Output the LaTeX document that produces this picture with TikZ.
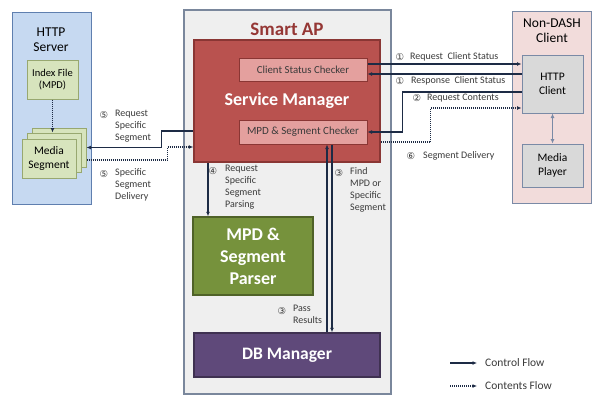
\documentclass[tikz,border=0pt]{standalone}
\usepackage{fontspec}
\setmainfont{Carlito}
\newfontfamily\circfont{DejaVu Sans}
\usetikzlibrary{arrows.meta}
\definecolor{srvfill}{HTML}{C6D9F1}
\definecolor{srvline}{HTML}{5F7FAF}
\definecolor{idxfill}{HTML}{D7E4BD}
\definecolor{idxline}{HTML}{98A870}
\definecolor{apfill}{HTML}{EFEFEF}
\definecolor{apline}{HTML}{7A879C}
\definecolor{aptitle}{HTML}{953735}
\definecolor{smfill}{HTML}{B9524F}
\definecolor{smline}{HTML}{8A3634}
\definecolor{chkfill}{HTML}{E4A09E}
\definecolor{parfill}{HTML}{76923C}
\definecolor{parline}{HTML}{4F6228}
\definecolor{dbfill}{HTML}{5F497A}
\definecolor{dbline}{HTML}{3F3151}
\definecolor{clfill}{HTML}{F2DCDB}
\definecolor{clline}{HTML}{7A8AA6}
\definecolor{hcfill}{HTML}{D9D9D9}
\definecolor{flowcol}{HTML}{1D2B45}
\definecolor{txtcol}{HTML}{3A3A3A}
\begin{document}
\begin{tikzpicture}[x=1pt,y=-1pt,>={Latex[length=4.5pt,width=4pt]},
    box/.style={draw,line width=1pt,inner sep=0pt,align=center},
    ctrl/.style={->,line width=1.1pt,draw=flowcol},
    cont/.style={->,line width=1.1pt,draw=flowcol,dash pattern=on 1pt off 1pt},
    num/.style={font=\circfont\fontsize{9.5}{10}\selectfont,text=txtcol,inner sep=0pt},
    lbl/.style={font=\fontsize{10}{12}\selectfont,text=txtcol,align=left,inner sep=0pt}]
  \useasboundingbox (0,0) rectangle (592,394);
  %http server
  \node[box,draw=srvline,fill=srvfill,minimum width=79pt,minimum height=192pt] (server) at (51.5,108) {};
  \node[font=\fontsize{13.5}{15}\selectfont,align=center] (srvtitle) at (51,40) {HTTP\\Server};
  \node[box,draw=idxline,fill=idxfill,minimum width=51pt,minimum height=39pt,font=\fontsize{10.5}{12.5}\selectfont] (index) at (52.5,79.5) {Index File\\(MPD)};
  \node[box,draw=idxline,fill=idxfill,minimum width=54pt,minimum height=39pt] (seg3) at (59,147.5) {};
  \node[box,draw=idxline,fill=idxfill,minimum width=54pt,minimum height=39pt] (seg2) at (54,152.5) {};
  \node[box,draw=idxline,fill=idxfill,minimum width=54pt,minimum height=39pt,font=\fontsize{11.5}{13.5}\selectfont] (seg1) at (49,158.5) {Media\\Segment};
  \draw[cont] (index.south) -- (index.south |- seg2.north);
  %smart ap
  \node[box,draw=apline,fill=apfill,line width=1.2pt,minimum width=207pt,minimum height=384pt] (ap) at (287.5,202) {};
  \node[font=\bfseries\fontsize{19}{21}\selectfont,text=aptitle] (aptitle) at (287,29) {Smart AP};
  \node[box,draw=smline,fill=smfill,line width=1.5pt,minimum width=186pt,minimum height=122pt,text=white,font=\bfseries\fontsize{18}{20}\selectfont] (svcmgr) at (287,101) {\raisebox{-3pt}{Service Manager}};
  \node[box,draw=smline,fill=chkfill,minimum width=128pt,minimum height=23pt,font=\fontsize{10.8}{12}\selectfont,text=txtcol] (csc) at (303,69.5) {Client Status Checker};
  \node[box,draw=smline,fill=chkfill,minimum width=128pt,minimum height=24pt,font=\fontsize{11}{12}\selectfont,text=txtcol] (msc) at (303,132) {MPD \& Segment Checker};
  \node[box,draw=parline,fill=parfill,line width=1.5pt,minimum width=120pt,minimum height=78pt,text=white,font=\bfseries\fontsize{18}{22}\selectfont] (parser) at (253,256) {MPD \&\\Segment\\Parser};
  \node[box,draw=dbline,fill=dbfill,line width=1.5pt,minimum width=186pt,minimum height=44pt,text=white,font=\bfseries\fontsize{17.5}{19}\selectfont] (db) at (287,355) {DB Manager};
  %non-dash client
  \node[box,draw=clline,fill=clfill,minimum width=79pt,minimum height=192pt] (client) at (551.5,107) {};
  \node[font=\fontsize{13.5}{15}\selectfont,align=center] (cltitle) at (552,31) {Non-DASH\\Client};
  \node[box,draw=clline,fill=hcfill,minimum width=61pt,minimum height=58pt,font=\fontsize{11.5}{13.5}\selectfont] (httpc) at (552.5,84) {HTTP\\Client};
  \node[box,draw=clline,fill=hcfill,minimum width=61pt,minimum height=43pt,font=\fontsize{11.5}{13.5}\selectfont] (player) at (552.5,165.5) {Media\\Player};
  \draw[<->,line width=0.8pt,draw=clline] (httpc.south) -- (player.north);
  %flows
  \draw[ctrl] ([yshift=5.5pt]csc.east) -- ([yshift=5.5pt]csc.east -| httpc.west);
  \draw[ctrl] ([yshift=-4.5pt]csc.east -| httpc.west) -- ([yshift=-4.5pt]csc.east);
  \draw[ctrl] ([yshift=-8pt]httpc.west) -- ++(-119,0) |- (msc.east);
  \draw[cont] ([yshift=-41pt]svcmgr.east) -- ++(50,0) |- ([yshift=-24pt]httpc.west);
  \draw[ctrl] ([yshift=-30pt]svcmgr.west) -- ++(-32,0) |- (seg3.east);
  \draw[cont] ([yshift=-12.5pt]seg3.east) -- ++(81,0) |- ([yshift=-46pt]svcmgr.west);
  \draw[ctrl] ([xshift=-79pt]svcmgr.south) -- ([xshift=-79pt]svcmgr.south |- parser.north);
  \draw[ctrl] ([xshift=29pt]msc.south) -- ([xshift=29pt]msc.south |- db.north);
  \draw[ctrl] ([xshift=40pt]db.north) -- ([xshift=40pt]db.north |- msc.south);
  %labels
  \node[num] (n5a) at (104,115.5) {⑤};
  \node[lbl,anchor=north west] (l5a) at (115,110) {Request\\Specific\\Segment};
  \node[num] (n5b) at (104,174) {⑤};
  \node[lbl,anchor=north west] (l5b) at (115,168) {Specific\\Segment\\Delivery};
  \node[num] (n4) at (213,171) {④};
  \node[lbl,anchor=north west] (l4) at (225,165) {Request\\Specific\\Segment\\Parsing};
  \node[num] (n3a) at (339,173) {③};
  \node[lbl,anchor=north west] (l3a) at (350,167) {Find\\MPD or\\Specific\\Segment};
  \node[num] (n3b) at (282,311) {③};
  \node[lbl,anchor=north west] (l3b) at (293,305) {Pass\\Results};
  \node[num] (n1a) at (400,57) {①};
  \node[lbl,anchor=west] (l1a) at (410,57) {Request\ \ Client Status};
  \node[num] (n1b) at (400,81) {①};
  \node[lbl,anchor=west] (l1b) at (411,81) {Response\ \ Client Status};
  \node[num] (n2) at (417,98) {②};
  \node[lbl,anchor=west] (l2) at (427,98) {Request Contents};
  \node[num] (n6) at (411,156) {⑥};
  \node[lbl,anchor=west] (l6) at (423,156) {Segment Delivery};
  %legend
  \coordinate (lgc) at (450,363);
  \coordinate (lgd) at (450,386);
  \node[lbl,anchor=west,font=\fontsize{11.5}{13}\selectfont] (lctrl) at (485,363) {Control Flow};
  \node[lbl,anchor=west,font=\fontsize{11.5}{13}\selectfont] (lcont) at (485,386) {Contents Flow};
  \draw[ctrl] (lgc) -- ([xshift=-8pt]lctrl.west);
  \draw[cont] (lgd) -- ([xshift=-8pt]lcont.west);
\end{tikzpicture}
\end{document}
